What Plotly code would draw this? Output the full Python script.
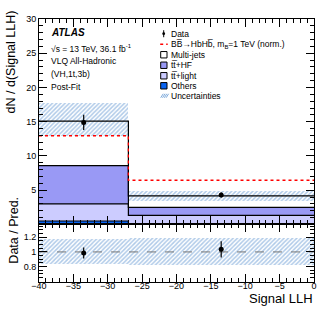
import numpy as np
import plotly.graph_objects as go
from plotly.subplots import make_subplots

# binning of the Signal LLH distribution
bin_edges = [-40, -27, 0]
bin_centers = [-33.5, -13.5]
bin_widths = [13, 27]

# post-fit background stack (bottom to top)
others = [0.5, 0.05]
tt_light = [2.5, 1.28]
tt_hf = [5.58, 1.17]
multijets = [6.52, 1.66]

# total prediction uncertainty band
unc_low = [12.9, 3.37]
unc_high = [17.7, 4.93]

# signal (normalised) and data
signal = [12.95, 6.45]
data_y = [14.9, 4.3]
data_err = [1.1, 0.35]

# ratio panel
ratio_y = [0.985, 1.035]
ratio_err = [0.075, 0.11]
ratio_band_low = [0.83, 0.81]
ratio_band_high = [1.17, 1.19]

FONT = "Liberation Sans, Arial, sans-serif"
HATCH = "#5f95d2"
W, H = 332, 322
ML, MR, MT, MB = 39.3, 17.7, 19.3, 40


def px(x):
    return (x - ML) / (W - ML - MR)


def py(y):
    return (H - MB - y) / (H - MT - MB)


split = py(224.5)
fig = make_subplots(rows=2, cols=1, shared_xaxes=True, vertical_spacing=0,
                    row_heights=[1 - split, split])

stack = [
    ("Others", others, "#0a64f0"),
    ("tt+light", tt_light, "#ccccff"),
    ("tt+HF", tt_hf, "#9999f5"),
    ("Multi-jets", multijets, "#ffffff"),
]
base = np.zeros(2)
for name, vals, col in stack:
    fig.add_trace(go.Bar(x=bin_centers, y=vals, base=list(base), width=bin_widths,
                         marker=dict(color=col, line=dict(width=0)),
                         showlegend=False, name=name), row=1, col=1)
    base = base + np.array(vals)
    fig.add_trace(go.Scatter(x=bin_edges, y=[base[0], base[1], base[1]],
                             mode="lines", line=dict(color="black", width=1.2, shape="hv"),
                             showlegend=False, hoverinfo="skip"), row=1, col=1)

# uncertainty band
fig.add_trace(go.Bar(x=bin_centers, y=list(np.array(unc_high) - np.array(unc_low)),
                     base=unc_low, width=bin_widths,
                     marker=dict(color="rgba(0,0,0,0)", line=dict(width=0),
                                 pattern=dict(shape="/", fgcolor=HATCH, bgcolor="rgba(0,0,0,0)",
                                              size=3, solidity=0.5)),
                     showlegend=False), row=1, col=1)

fig.add_trace(go.Scatter(x=bin_edges, y=[signal[0], signal[1], signal[1]], mode="lines",
                         line=dict(color="#ff0000", width=1.3, dash="dot", shape="hv"),
                         showlegend=False), row=1, col=1)

fig.add_trace(go.Scatter(x=bin_centers, y=data_y, mode="markers",
                         marker=dict(color="black", size=5),
                         error_y=dict(type="data", array=data_err, color="black",
                                      thickness=1.2, width=0),
                         showlegend=False), row=1, col=1)

# ratio panel
fig.add_trace(go.Bar(x=bin_centers, y=list(np.array(ratio_band_high) - np.array(ratio_band_low)),
                     base=ratio_band_low, width=bin_widths,
                     marker=dict(color="rgba(0,0,0,0)", line=dict(width=0),
                                 pattern=dict(shape="/", fgcolor=HATCH, bgcolor="rgba(0,0,0,0)",
                                              size=3, solidity=0.5)),
                     showlegend=False), row=2, col=1)
fig.add_trace(go.Scatter(x=[-40, 0], y=[1, 1], mode="lines",
                         line=dict(color="#777777", width=1, dash="dash"),
                         showlegend=False), row=2, col=1)
fig.add_trace(go.Scatter(x=bin_centers, y=ratio_y, mode="markers",
                         marker=dict(color="black", size=5),
                         error_y=dict(type="data", array=ratio_err, color="black",
                                      thickness=1.2, width=0),
                         showlegend=False), row=2, col=1)

axis_common = dict(showline=True, linecolor="black", linewidth=1, mirror="allticks",
                   ticks="inside", ticklen=8, tickcolor="black", showgrid=False,
                   zeroline=False, tickfont=dict(family=FONT, size=9, color="black"))
fig.update_xaxes(range=[-40, 0], dtick=5, tick0=0,
                 minor=dict(ticks="inside", ticklen=4, dtick=1, tickcolor="black"),
                 **axis_common)
fig.update_xaxes(showticklabels=False, row=1, col=1)
fig.update_xaxes(ticklabelstandoff=-5, row=2, col=1)
fig.update_yaxes(range=[0, 30], tickmode="array", tickvals=[0, 5, 10, 15, 20, 25, 30],
                 ticktext=["", "5", "10", "15", "20", "25", "30"],
                 minor=dict(ticks="inside", ticklen=4, dtick=1, tick0=0, tickcolor="black"),
                 row=1, col=1, **axis_common)
fig.update_yaxes(range=[0.59, 1.375], tickmode="array", tickvals=[0.8, 1.0, 1.2],
                 ticktext=["0.8", "1", "1.2"],
                 minor=dict(ticks="inside", ticklen=4, dtick=0.05, tick0=0, tickcolor="black"),
                 row=2, col=1, **axis_common)


def text(x, y, s, size=8.5, **kw):
    fig.add_annotation(x=px(x), y=py(y), xref="paper", yref="paper", text=s,
                       showarrow=False, xanchor=kw.pop("xanchor", "left"),
                       yanchor=kw.pop("yanchor", "middle"),
                       font=dict(family=FONT, size=size, color="black"), **kw)


# axis titles
text(11, 62, "dN / d(Signal LLH)", size=12.5, textangle=-90, xanchor="center", yanchor="middle")
text(14, 230, "Data / Pred.", size=12.5, textangle=-90, xanchor="center", yanchor="middle")
text(315, 298, "Signal LLH", size=13, xanchor="right")

# labels
text(49, 33, "<b><i>ATLAS</i></b>", size=10)
text(49, 49, "√s = 13 TeV, 36.1 fb<sup>-1</sup>", size=8.5)
text(49, 61, "VLQ All-Hadronic", size=8.5)
text(49, 74, "(VH,1t,3b)", size=8.5)
text(49, 87, "Post-Fit", size=8.5)

# legend
rows = [34, 44.5, 55, 65.5, 76, 86, 96]
labels = ["Data", "BB\u0305→HbHb\u0305, m<sub>B</sub>=1 TeV (norm.)", "Multi-jets",
          "tt\u0305+HF", "tt\u0305+light", "Others", "Uncertainties"]
for yy, lab in zip(rows, labels):
    text(169, yy, lab)

fig.add_shape(type="line", xref="paper", yref="paper", x0=px(164), x1=px(164),
              y0=py(30.5), y1=py(37.5), line=dict(color="black", width=1))
fig.add_shape(type="circle", xref="paper", yref="paper", x0=px(162.6), x1=px(165.4),
              y0=py(35.4), y1=py(32.6), fillcolor="black", line=dict(width=0))
fig.add_shape(type="line", xref="paper", yref="paper", x0=px(160.5), x1=px(168),
              y0=py(44.5), y1=py(44.5), line=dict(color="#ff0000", width=1.3, dash="dot"))
for yy, col in zip(rows[2:6], ["#ffffff", "#9999f5", "#ccccff", "#0a64f0"]):
    fig.add_shape(type="rect", xref="paper", yref="paper", x0=px(161), x1=px(167.3),
                  y0=py(yy + 3.2), y1=py(yy - 3.2), fillcolor=col,
                  line=dict(color="black", width=1))
for k in range(4):
    x0 = 161 + k * 1.8
    fig.add_shape(type="line", xref="paper", yref="paper", x0=px(x0), x1=px(x0 + 2.5),
                  y0=py(98), y1=py(94), line=dict(color=HATCH, width=0.8))

fig.update_layout(width=W, height=H, margin=dict(l=ML, r=MR, t=MT, b=MB),
                  plot_bgcolor="white", paper_bgcolor="white", barmode="overlay",
                  bargap=0, showlegend=False)
# drop the default 8px page margin so the figure sits at the window origin
fig.write_html("out.html", config={"displayModeBar": False},
               post_script="document.body.style.margin='0';")
